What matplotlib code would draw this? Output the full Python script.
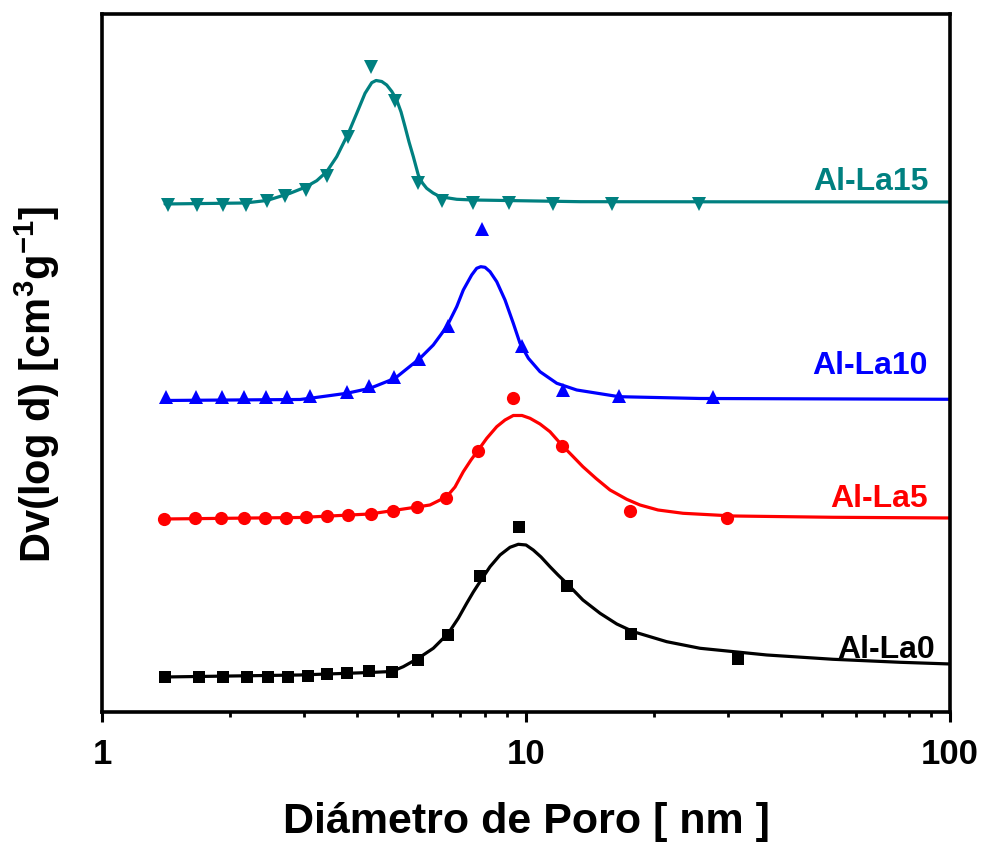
import matplotlib
matplotlib.use("Agg")
import matplotlib.pyplot as plt
from matplotlib.ticker import LogLocator, NullFormatter, FixedLocator, FixedFormatter

plt.rcParams["font.family"] = ["Liberation Sans", "DejaVu Sans"]
plt.rcParams["font.weight"] = "bold"
plt.rcParams["mathtext.fontset"] = "custom"
plt.rcParams["mathtext.rm"] = "Liberation Sans:bold"
plt.rcParams["mathtext.it"] = "Liberation Sans:bold"
plt.rcParams["mathtext.bf"] = "Liberation Sans:bold"
plt.rcParams["mathtext.default"] = "rm"

# ---- measured points (pore diameter in nm, stacked Dv(log d)) ----
d_la0 = [1.408, 1.693, 1.932, 2.194, 2.459, 2.750, 3.066, 3.388, 3.777, 4.270,
         4.825, 5.571, 6.557, 7.790, 9.627, 12.47, 17.69, 31.6]
v_la0 = [0.353, 0.353, 0.353, 0.353, 0.353, 0.353, 0.363, 0.380, 0.393, 0.410,
         0.403, 0.520, 0.770, 1.360, 1.847, 1.263, 0.780, 0.530]

d_la5 = [1.403, 1.657, 1.908, 2.162, 2.424, 2.713, 3.028, 3.394, 3.810, 4.310,
         4.850, 5.541, 6.477, 7.718, 9.303, 12.14, 17.59, 29.84]
v_la5 = [1.930, 1.937, 1.937, 1.937, 1.937, 1.943, 1.947, 1.960, 1.970, 1.983,
         2.013, 2.053, 2.143, 2.613, 3.137, 2.660, 2.010, 1.943]

d_la10 = [1.413, 1.663, 1.916, 2.162, 2.433, 2.727, 3.094, 3.789, 4.270, 4.892,
          5.593, 6.537, 7.887, 9.770, 12.21, 16.57, 27.65]
v_la10 = [3.145, 3.145, 3.145, 3.145, 3.145, 3.145, 3.155, 3.203, 3.258, 3.348,
          3.532, 3.857, 4.828, 3.662, 3.217, 3.162, 3.145]

d_la15 = [1.429, 1.673, 1.926, 2.183, 2.446, 2.702, 3.023, 3.388, 3.810, 4.302,
          4.911, 5.571, 6.348, 7.512, 9.119, 11.58, 15.95, 25.59]
v_la15 = [5.068, 5.068, 5.068, 5.068, 5.112, 5.155, 5.215, 5.362, 5.753, 6.445,
          6.112, 5.292, 5.112, 5.087, 5.087, 5.078, 5.078, 5.078]

# ---- fitted distribution curves ----
fd_la0 = [1.408, 2.931, 4.287, 4.825, 5.135, 5.571, 6.044, 6.557, 6.922, 7.246,
          7.512, 7.790, 8.225, 8.685, 9.168, 9.590, 10.00, 10.40, 10.85, 11.39,
          11.90, 12.47, 13.62, 14.95, 16.37, 17.91, 21.47, 25.73, 36.97, 52.98,
          76.22, 100.0]
fv_la0 = [0.350, 0.370, 0.395, 0.405, 0.453, 0.537, 0.637, 0.787, 0.937, 1.087,
          1.200, 1.303, 1.453, 1.570, 1.647, 1.677, 1.670, 1.620, 1.550, 1.453,
          1.370, 1.287, 1.120, 0.987, 0.880, 0.803, 0.703, 0.637, 0.570, 0.527,
          0.497, 0.480]

fd_la5 = [1.408, 2.931, 4.287, 5.532, 5.936, 6.501, 6.800, 7.114, 7.417, 7.718,
          8.080, 8.530, 8.923, 9.333, 9.786, 10.22, 10.79, 11.39, 12.14, 12.84,
          13.62, 14.63, 15.78, 17.28, 18.57, 20.48, 23.46, 30.78, 52.98, 100.0]
fv_la5 = [1.930, 1.945, 1.980, 2.050, 2.070, 2.153, 2.250, 2.403, 2.520, 2.620,
          2.737, 2.853, 2.920, 2.965, 2.965, 2.937, 2.880, 2.803, 2.670, 2.565,
          2.453, 2.335, 2.220, 2.127, 2.070, 2.020, 1.987, 1.960, 1.947, 1.940]

fd_la10 = [1.408, 2.931, 3.094, 3.777, 4.287, 4.911, 5.623, 6.044, 6.501, 6.864,
           7.114, 7.445, 7.650, 7.821, 8.004, 8.225, 8.530, 8.923, 9.333, 9.679,
           10.13, 10.79, 11.82, 13.17, 16.57, 25.73, 100.0]
fv_la10 = [3.115, 3.125, 3.137, 3.187, 3.237, 3.337, 3.537, 3.670, 3.853, 4.053,
           4.220, 4.370, 4.437, 4.453, 4.447, 4.403, 4.303, 4.120, 3.887, 3.687,
           3.537, 3.403, 3.287, 3.220, 3.153, 3.135, 3.127]

fd_la15 = [1.408, 2.174, 2.449, 2.776, 3.012, 3.210, 3.388, 3.577, 3.810, 3.988,
           4.172, 4.327, 4.429, 4.568, 4.693, 4.825, 4.955, 5.073, 5.184, 5.298,
           5.423, 5.571, 5.698, 5.830, 6.035, 6.268, 6.864, 7.512, 13.41, 100.0]
fv_la15 = [5.080, 5.090, 5.115, 5.187, 5.247, 5.313, 5.403, 5.553, 5.787, 5.987,
           6.187, 6.293, 6.315, 6.305, 6.270, 6.205, 6.120, 6.000, 5.853, 5.700,
           5.553, 5.370, 5.290, 5.237, 5.190, 5.153, 5.127, 5.120, 5.103, 5.100]

series = [
    ("Al-La0", d_la0, v_la0, fd_la0, fv_la0, "#000000", "s", 8.5, (92.2, 0.54)),
    ("Al-La5", d_la5, v_la5, fd_la5, fv_la5, "#FF0000", "o", 9.5, (88.8, 2.05)),
    ("Al-La10", d_la10, v_la10, fd_la10, fv_la10, "#0000FF", "^", 10.5, (88.8, 3.38)),
    ("Al-La15", d_la15, v_la15, fd_la15, fv_la15, "#008080", "v", 10.5, (88.8, 5.22)),
]

fig = plt.figure(figsize=(9.82, 8.48), dpi=100)
ax = fig.add_axes([0.1039, 0.1604, 0.8635, 0.8231])

for name, dx, vy, fx, fy, col, mk, ms, (tx, ty) in series:
    ax.plot(fx, fy, color=col, lw=2.3, solid_capstyle="round",
            solid_joinstyle="round", zorder=2)
    ax.plot(dx, vy, linestyle="none", marker=mk, ms=ms, color=col,
            markeredgewidth=0, zorder=3)
    ax.text(tx, ty, name, color=col, fontsize=23, fontweight="bold",
            ha="right", va="baseline")

ax.set_xscale("log")
ax.set_xlim(1, 100)
ax.set_ylim(0, 6.98)

ax.xaxis.set_major_locator(FixedLocator([1, 10, 100]))
ax.xaxis.set_major_formatter(FixedFormatter(["1", "10", "100"]))
ax.xaxis.set_minor_locator(LogLocator(base=10, subs=range(2, 10)))
ax.xaxis.set_minor_formatter(NullFormatter())
ax.tick_params(axis="x", which="major", direction="out", length=7, width=2.2,
               labelsize=25, pad=12)
ax.tick_params(axis="x", which="minor", direction="out", length=3.5, width=2.0)
ax.tick_params(axis="y", left=False, labelleft=False)

for sp in ax.spines.values():
    sp.set_linewidth(2.6)

ax.set_xlabel("Diámetro de Poro [ nm ]", fontsize=31, fontweight="bold",
              labelpad=22)
ax.set_ylabel("Dv(log d) [cm$^{3}$g$^{-1}$]", fontsize=30, fontweight="bold")
ax.yaxis.set_label_coords(-0.047, 0.47)

fig.savefig("out.png", dpi=100)
